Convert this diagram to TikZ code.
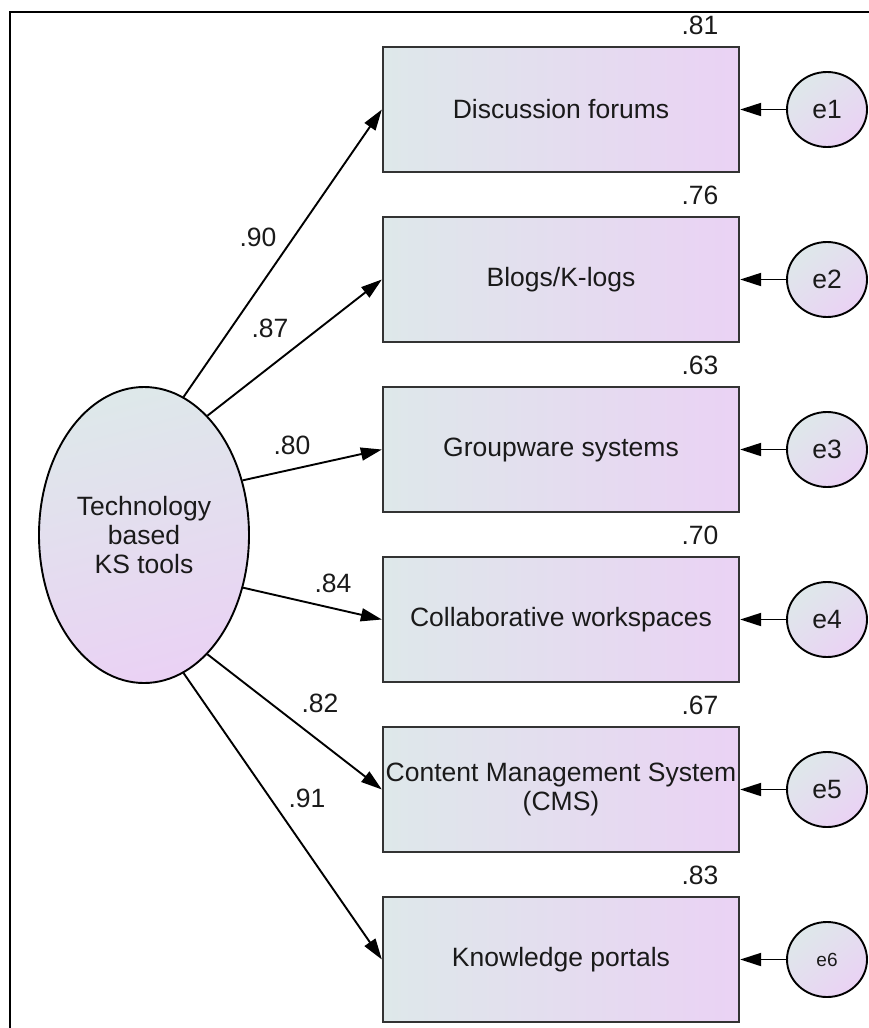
\documentclass[tikz,border=0pt]{standalone}
\usepackage{fontspec}
\setmainfont{Liberation Sans}
\usetikzlibrary{arrows.meta,shapes.geometric,calc}
\definecolor{fillA}{HTML}{DEE8EA}
\definecolor{fillB}{HTML}{EAD2F4}
\definecolor{ink}{HTML}{1A1A1A}
\begin{document}
\begin{tikzpicture}[x=1pt,y=-1pt,
  font=\fontsize{26.5}{29}\selectfont, text=ink,
  indicator/.style={draw=black!80, line width=2.3pt, minimum width=356pt,
    minimum height=125pt, inner sep=0pt, align=center,
    left color=fillA, right color=fillB},
  latent/.style={ellipse, draw=black, line width=1.9pt, minimum width=210pt,
    minimum height=296pt, inner sep=0pt, align=center,
    top color=fillA, bottom color=fillB, shading angle=15},
  errvar/.style={ellipse, draw=black, line width=1.9pt, minimum width=80pt,
    minimum height=75pt, inner sep=0pt,
    top color=fillA, bottom color=fillB, shading angle=40},
  path/.style={line width=1.9pt, -{Triangle[length=21pt,width=13pt]}},
  coef/.style={inner sep=0pt}
]
\useasboundingbox (0,0) rectangle (869,1028);

% frame
\draw[line width=2.4pt] (10,1028) -- (10,12) -- (869,12);

% latent factor
\node[latent] (T) at (144,535) {Technology\\based\\KS tools};

% observed indicators
\node[indicator] (b1) at (561,109.5) {Discussion forums};
\node[indicator] (b2) at (561,279.5) {Blogs/K-logs};
\node[indicator] (b3) at (561,449.5) {Groupware systems};
\node[indicator] (b4) at (561,619.5) {Collaborative workspaces};
\node[indicator] (b5) at (561,789.5) {Content Management System\\(CMS)};
\node[indicator] (b6) at (561,959.5) {Knowledge portals};

% error terms
\node[errvar] (e1) at (827,109.5) {e1};
\node[errvar] (e2) at (827,279.5) {e2};
\node[errvar] (e3) at (827,449.5) {e3};
\node[errvar] (e4) at (827,619.5) {e4};
\node[errvar] (e5) at (827,789.5) {e5};
\node[errvar, font=\fontsize{19}{22}\selectfont] (e6) at (827,959.5) {e6};

% squared multiple correlations
\node[coef] (r1) at (700,25) {.81};
\node[coef] (r2) at (700,195) {.76};
\node[coef] (r3) at (700,365) {.63};
\node[coef] (r4) at (700,535) {.70};
\node[coef] (r5) at (700,705) {.67};
\node[coef] (r6) at (700,875) {.83};

% factor loadings
\draw[path] (T.74) -- (b1.west);
\draw[path] (T.62) -- (b2.west);
\draw[path] (T.29) -- (b3.west);
\draw[path] (T.-28) -- (b4.west);
\draw[path] (T.-62) -- (b5.west);
\draw[path] (T.-74) -- (b6.west);

\node[coef] (l1) at (258,237) {.90};
\node[coef] (l2) at (270,328) {.87};
\node[coef] (l3) at (292,445) {.80};
\node[coef] (l4) at (333,583) {.84};
\node[coef] (l5) at (320,703) {.82};
\node[coef] (l6) at (307,798) {.91};

% error paths
\draw[path] (e1) -- (b1.east);
\draw[path] (e2) -- (b2.east);
\draw[path] (e3) -- (b3.east);
\draw[path] (e4) -- (b4.east);
\draw[path] (e5) -- (b5.east);
\draw[path] (e6) -- (b6.east);
\end{tikzpicture}
\end{document}
